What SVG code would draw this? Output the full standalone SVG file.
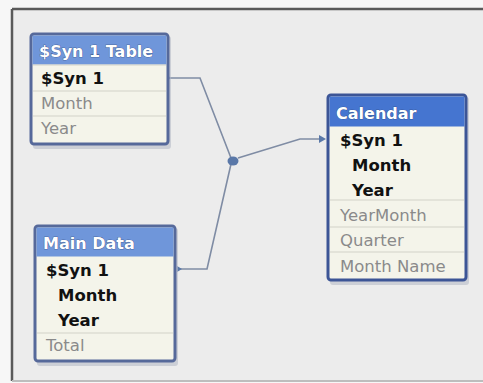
<svg xmlns="http://www.w3.org/2000/svg" width="483" height="383" viewBox="0 0 483 383">
<defs>
<style>
.hdr{font-family:"DejaVu Sans",Verdana,sans-serif;font-weight:bold;font-size:16px;fill:#ffffff;stroke:#2a3f70;stroke-width:0.6;paint-order:stroke}
.key{font-family:"DejaVu Sans",Verdana,sans-serif;font-weight:bold;font-size:16.5px;fill:#111111}
.fld{font-family:"DejaVu Sans",Verdana,sans-serif;font-size:16.5px;fill:#8a8a8a}
.box{fill:#f4f4ea;stroke:#56699a;stroke-width:3}
.shadow{fill:#b8bcc8;opacity:0.6}
.sep{stroke:#d2d2c8;stroke-width:1.2}
.conn{fill:none;stroke:#7f8ca4;stroke-width:1.6}
.end{fill:#5a78a8}
</style>
</defs>
<rect x="0" y="0" width="483" height="383" fill="#f7f7f7"/>
<rect x="12" y="9" width="480" height="372" fill="#ececec"/>
<line x1="12" y1="9" x2="483" y2="9" stroke="#5a5a5a" stroke-width="2.5"/>
<line x1="12" y1="9" x2="12" y2="381" stroke="#5a5a5a" stroke-width="2.5"/>
<line x1="12" y1="381" x2="483" y2="381" stroke="#bdbdbd" stroke-width="2"/>

<g id="connectors">
<path class="conn" d="M168,78 L200,78 L231,158"/>
<path class="conn" d="M180,269 L207,269 L231,164"/>
<path class="conn" d="M238,158 L300,139 L323,139"/>
<path class="end" d="M167,75 L171,78 L167,81 Z"/>
<path class="end" d="M177,266 L182,269 L177,272 Z"/>
<path class="end" d="M319,135 L326,139 L319,143 Z"/>
<ellipse class="end" cx="233" cy="161" rx="5.5" ry="4.5"/>
</g>

<g id="syn-table">
<rect class="shadow" x="33" y="36" width="138" height="113" rx="3"/>
<rect class="box" x="31" y="34" width="137" height="110" rx="3"/>
<rect x="32.5" y="35.5" width="134" height="29" fill="#6f96da"/>
<line class="sep" x1="33" y1="65" x2="166" y2="65" stroke="#56699a"/>
<line class="sep" x1="33" y1="91" x2="166" y2="91"/>
<line class="sep" x1="33" y1="116" x2="166" y2="116"/>
<text class="hdr" x="39" y="57">$Syn 1 Table</text>
<text class="key" x="41" y="84">$Syn 1</text>
<text class="fld" x="41" y="109">Month</text>
<text class="fld" x="41" y="134">Year</text>
</g>

<g id="main-data">
<rect class="shadow" x="37" y="228" width="141" height="138" rx="3"/>
<rect class="box" x="35" y="226" width="140" height="135" rx="3"/>
<rect x="36.5" y="227.5" width="137" height="29" fill="#6f96da"/>
<line class="sep" x1="37" y1="333" x2="173" y2="333"/>
<text class="hdr" x="43" y="249">Main Data</text>
<text class="key" x="46" y="276">$Syn 1</text>
<text class="key" x="58" y="301">Month</text>
<text class="key" x="58" y="326">Year</text>
<text class="fld" x="46" y="351">Total</text>
</g>

<g id="calendar">
<rect class="shadow" x="330" y="97" width="139" height="188" rx="3"/>
<rect class="box" x="328" y="95" width="138" height="185" rx="3" style="stroke:#3c5596"/>
<rect x="329.5" y="96.5" width="135" height="30" fill="#4575d0"/>
<line class="sep" x1="330" y1="200" x2="464" y2="200"/>
<line class="sep" x1="330" y1="227" x2="464" y2="227"/>
<line class="sep" x1="330" y1="252" x2="464" y2="252"/>
<text class="hdr" x="336" y="119">Calendar</text>
<text class="key" x="340" y="146">$Syn 1</text>
<text class="key" x="352" y="171">Month</text>
<text class="key" x="352" y="196">Year</text>
<text class="fld" x="340" y="221">YearMonth</text>
<text class="fld" x="340" y="246">Quarter</text>
<text class="fld" x="340" y="272">Month Name</text>
</g>
</svg>
